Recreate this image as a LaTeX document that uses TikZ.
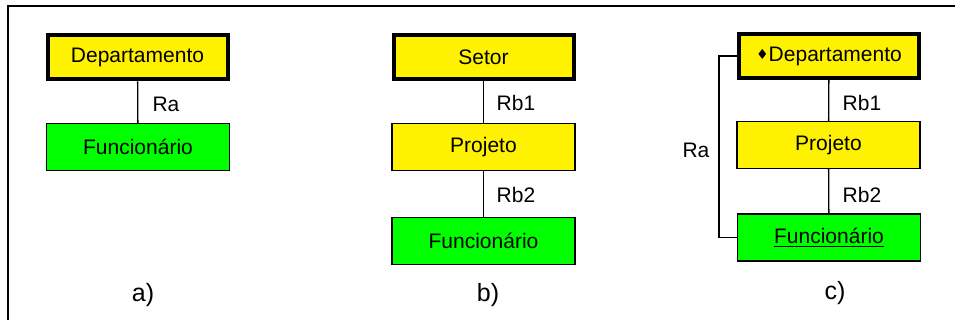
\documentclass[tikz,border=0pt]{standalone}
\usepackage{fontspec}
\setmainfont{Liberation Sans}
\newfontfamily\symfont{DejaVu Sans}

\begin{document}
\begin{tikzpicture}[x=0.5pt, y=-0.5pt,
    ent/.style={draw, line width=0.65pt, minimum width=91.5pt, minimum height=23.5pt, inner sep=0pt, font=\fontsize{10.5}{12}\selectfont},
    own/.style={ent, line width=2pt, minimum width=90pt, minimum height=22pt},
    rel/.style={font=\fontsize{10.5}{12}\selectfont},
    sublabel/.style={font=\fontsize{12.5}{14}\selectfont}]
    \useasboundingbox (0, 0) rectangle (955, 320);
    \draw[line width=1pt] (955, 6) -- (8, 6) -- (8, 320);

    \node[own, fill=yellow] (deptA) at (137.5, 57.5) {Departamento};
    \node[ent, fill=green] (funcA) at (138, 147) {Funcionário};
    \draw[line width=0.65pt] (deptA) -- (funcA);
    \node[rel] (ra) at (166, 104) {Ra};
    \node[sublabel] (labA) at (143, 295) {a)};

    \node[own, fill=yellow] (setor) at (483.5, 57.5) {Setor};
    \node[ent, fill=yellow] (projB) at (483.5, 147) {Projeto};
    \node[ent, fill=green] (funcB) at (483.5, 241) {Funcionário};
    \draw[line width=0.65pt] (setor) -- (projB) -- (funcB);
    \node[rel] (rb1B) at (516, 103) {Rb1};
    \node[rel] (rb2B) at (516, 195) {Rb2};
    \node[sublabel] (labB) at (488, 295) {b)};

    \node[own, fill=yellow] (deptC) at (829, 56) {{\symfont\fontsize{7}{8}\selectfont\raisebox{0.6pt}{♦}}Departamento};
    \node[ent, fill=yellow] (projC) at (828.5, 145) {Projeto};
    \node[ent, fill=green] (funcC) at (829, 237.5) {\underline{Funcionário}};
    \draw[line width=0.65pt] (deptC) -- (projC) -- (funcC);
    \coordinate (raside) at (719, 145);
    \draw[line width=0.65pt] (deptC.west) -| (raside) |- (funcC.west);
    \node[rel] (rb1C) at (862, 103) {Rb1};
    \node[rel] (rb2C) at (862, 195) {Rb2};
    \node[rel] (raC) at (696, 150) {Ra};
    \node[sublabel] (labC) at (835, 293) {c)};
\end{tikzpicture}
\end{document}
